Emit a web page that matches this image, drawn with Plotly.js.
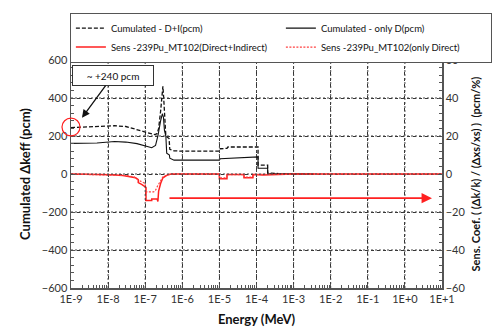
<!DOCTYPE html>
<html><head><meta charset="utf-8">
<script src="https://cdn.plot.ly/plotly-3.0.1.min.js"></script>
<style>html,body{margin:0;padding:0;background:#fff}#c{width:498px;height:333px}</style>
</head><body><div id="c"></div>
<script>
const tickVals = [1e-9,1e-8,1e-7,1e-6,1e-5,1e-4,1e-3,1e-2,1e-1,1e0,1e1];
const tickText = ["1E-9","1E-8","1E-7","1E-6","1E-5","1E-4","1E-3","1E-2","1E-1","1E+0","1E+1"];
const yTickVals = [-600,-400,-200,0,200,400,600];

const seriesNames = ["Cumulated - D+I(pcm)","Cumulated - only D(pcm)","Sens -239Pu_MT102(Direct+Indirect)","Sens -239Pu_MT102(only Direct)"];

const energyCumDI = [1e-9,3e-9,1.5e-8,3e-8,5e-8,8e-8,1.2e-7,1.8e-7,2.1e-7,2.3e-7,2.6e-7,2.85e-7,3.0e-7,3.15e-7,3.3e-7,3.6e-7,4.4e-7,4.6e-7,6e-7,1e-6,1e-5,1.05e-5,1.6e-5,1.7e-5,1.1e-4,1.1e-4,2e-4,2e-4,4e-4,3.5e-3];
const cumDI =       [244,247,254,250,238,225,214,207,212,240,330,420,462,400,300,200,187,130,122,120,120,133,135,142,142,47,47,5,2,0];

const energyCumD = [1e-9,5e-9,1.5e-8,3e-8,6e-8,1e-7,1.5e-7,1.9e-7,2.2e-7,2.6e-7,2.9e-7,3.1e-7,3.3e-7,3.6e-7,3.8e-7,4.5e-7,4.6e-7,6e-7,1e-5,1.05e-5,1.1e-4,1.1e-4,2e-4,2e-4,3.5e-3];
const cumD =       [161,163,171,168,160,148,138,150,200,280,317,300,230,200,110,100,83,73,73,80,90,30,30,3,0];

const energySensDI = [1e-9,5e-9,1.2e-8,2.5e-8,4e-8,5.5e-8,6.5e-8,6.5e-8,8e-8,1.05e-7,1.05e-7,1.5e-7,1.5e-7,2.1e-7,2.2e-7,2.3e-7,2.6e-7,3e-7,4e-7,5e-7,1e-5,1e-5,1.6e-5,1.6e-5,4.6e-5,4.6e-5,8e-5,8e-5,1.5e-4,3e-4,1e-3,10];
const sensDI =       [0,-0.2,-0.4,-0.8,-1.3,-2,-3,-4.5,-5.5,-7,-14,-14,-13.2,-13.2,-14.5,-9,-5,-2,-0.5,0,0,-2.5,-2.5,-0.3,-0.3,-2,-2,-0.3,-0.5,-0.2,0,0];

const energySensD = [1e-9,1e-8,3e-8,5e-8,7e-8,1e-7,1.05e-7,1.7e-7,1.9e-7,2.2e-7,2.6e-7,3e-7,4e-7,5e-7,1e-5,1e-5,1.6e-5,1.6e-5,4.6e-5,4.6e-5,8e-5,8e-5,1e-3,10];
const sensD =       [0,-0.3,-0.8,-1.5,-3.5,-5,-9.4,-9.4,-8.5,-6,-3.5,-1.5,-0.4,0,0,-2,-2,-0.3,-0.3,-1.6,-1.6,-0.2,0,0];

const FONT = "Lato, 'Open Sans', sans-serif";
const traces = [
  {x: energyCumDI, y: cumDI, name: seriesNames[0], mode:'lines', line:{color:'#111', width:1.3, dash:'4px,2px'}},
  {x: energyCumD, y: cumD, name: seriesNames[1], mode:'lines', line:{color:'#111', width:1.1}},
  {x: energySensDI, y: sensDI, name: seriesNames[2], mode:'lines', yaxis:'y2', line:{color:'#ff2020', width:1.5}},
  {x: energySensD, y: sensD, name: seriesNames[3], mode:'lines', yaxis:'y2', line:{color:'#ff4040', width:1.2, dash:'2px,1.5px'}}
];

const X_RANGE = [-9, 1];
const gridLine = {color:'#444', width:1, dash:'2px,2px'};
const gridShapes = [];
tickVals.slice(1, -1).forEach(v => {
  const f = (Math.log10(v) - X_RANGE[0]) / (X_RANGE[1] - X_RANGE[0]);
  gridShapes.push({type:'line', xref:'paper', yref:'paper', x0:f, x1:f, y0:0, y1:1, line:gridLine});
});
yTickVals.slice(1, -1).forEach(v => {
  gridShapes.push({type:'line', xref:'paper', yref:'y', x0:0, x1:1, y0:v, y1:v, line:gridLine});
});

const layout = {
  width:498, height:333,
  margin:{l:71, r:56, t:57, b:45},
  paper_bgcolor:'#fff', plot_bgcolor:'#fff',
  font:{family:FONT, size:11, color:'#333'},
  showlegend:true,
  legend:{orientation:'h', x:-0.003, y:1.208, xanchor:'left', yanchor:'top',
    bordercolor:'#555', borderwidth:1, font:{size:9.5, color:'#111', family:FONT},
    entrywidth:165, entrywidthmode:'pixels', tracegroupgap:0, itemwidth:30},
  xaxis:{type:'log', range:X_RANGE, tickmode:'array', tickvals:tickVals, ticktext:tickText,
    showgrid:true, gridcolor:'#333', gridwidth:1, griddash:'dot',
    ticks:'inside', ticklen:4, tickcolor:'#555', showline:true, linecolor:'#555', linewidth:1.5, mirror:true,
    minor:{ticks:'inside', ticklen:3, tickcolor:'#555', dtick:'D1', showgrid:false},
    title:{text:'<b>Energy (MeV)</b>', font:{size:13, color:'#111', family:FONT}, standoff:11},
    tickfont:{size:11, color:'#333'}, zeroline:false},
  yaxis:{range:[-600,600], tickmode:'array', tickvals:yTickVals, ticks:'inside', ticklen:4, tickcolor:'#555',
    showgrid:true, gridcolor:'#333', gridwidth:1, griddash:'dot',
    showline:true, linecolor:'#555', linewidth:1.5, mirror:true, zeroline:false,
    minor:{ticks:'inside', ticklen:3, tickcolor:'#555', dtick:40, showgrid:false},
    title:{text:'<b>Cumulated \u0394keff (pcm)</b>', font:{size:13, color:'#111', family:FONT}, standoff:8},
    tickfont:{size:11, color:'#333'}},
  yaxis2:{overlaying:'y', side:'right', range:[-60,60], dtick:20, showgrid:false, zeroline:false,
    ticks:'inside', ticklen:4, tickcolor:'#555', showline:true, linecolor:'#555', linewidth:1.5,
    minor:{ticks:'inside', ticklen:3, tickcolor:'#555', dtick:4},
    title:{text:'<b>Sens. Coef. ( (\u0394k/k) / (\u0394xs/xs) )  (pcm/%)</b>', font:{size:11, color:'#111', family:FONT}, standoff:8},
    tickfont:{size:11, color:'#333'}},
  shapes: gridShapes.concat([
    {type:'circle', xref:'paper', yref:'paper', x0:-0.0243, x1:0.0243, y0:0.667, y1:0.745, line:{color:'#ff2020', width:1.2}}
  ]),
  annotations:[
    {xref:'paper', yref:'paper', x:0.0296, y:0.747, axref:'pixel', ayref:'pixel', ax:31, ay:-42,
     text:'~ +240 pcm', showarrow:true, arrowhead:2, arrowsize:1.2, arrowwidth:1.3, arrowcolor:'#111',
     font:{size:10, color:'#111', family:FONT}, bordercolor:'#333', borderwidth:1, bgcolor:'#fff',
     width:76, height:15, borderpad:2},
    {xref:'paper', yref:'paper', x:0.973, y:0.394, axref:'pixel', ayref:'pixel', ax:-264, ay:0,
     text:'', showarrow:true, arrowhead:2, arrowsize:1.3, arrowwidth:1.6, arrowcolor:'#ff2020'}
  ]
};
Plotly.newPlot('c', traces, layout, {displayModeBar:false, staticPlot:true});
</script></body></html>
